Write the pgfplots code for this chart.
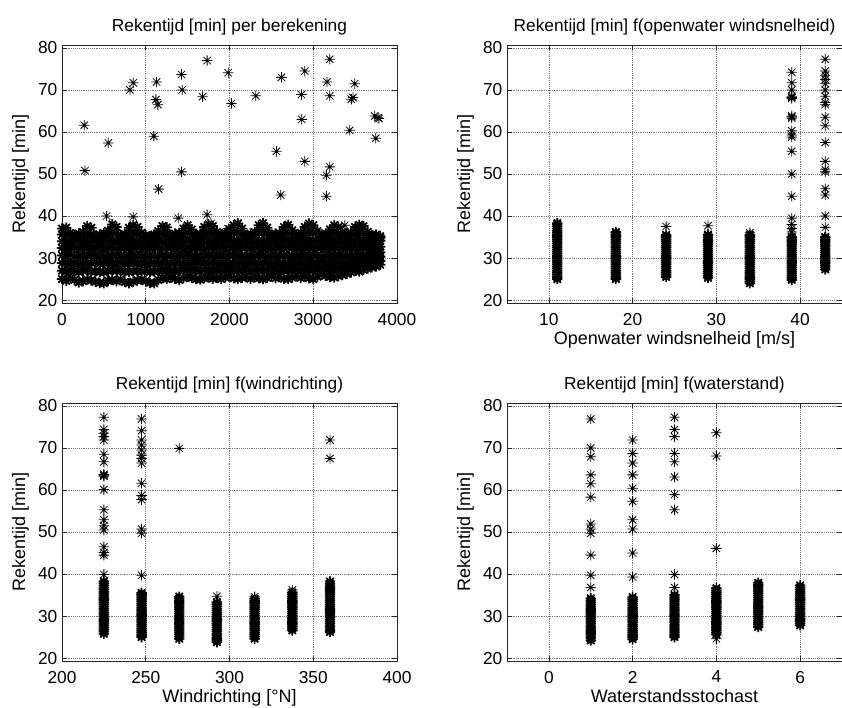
\documentclass[border=0pt]{standalone}
\usepackage{fontspec}
\setmainfont{Liberation Sans}
\usepackage{pgfplots}
\usepackage{pgfplotstable}
\pgfplotsset{compat=1.18}

\pgfdeclareplotmark{mstar}{%
 \pgfpathmoveto{\pgfqpoint{-\pgfplotmarksize}{0pt}}\pgfpathlineto{\pgfqpoint{\pgfplotmarksize}{0pt}}%
 \pgfpathmoveto{\pgfqpoint{0pt}{-\pgfplotmarksize}}\pgfpathlineto{\pgfqpoint{0pt}{\pgfplotmarksize}}%
 \pgfpathmoveto{\pgfqpoint{-0.707\pgfplotmarksize}{-0.707\pgfplotmarksize}}\pgfpathlineto{\pgfqpoint{0.707\pgfplotmarksize}{0.707\pgfplotmarksize}}%
 \pgfpathmoveto{\pgfqpoint{-0.707\pgfplotmarksize}{0.707\pgfplotmarksize}}\pgfpathlineto{\pgfqpoint{0.707\pgfplotmarksize}{-0.707\pgfplotmarksize}}%
 \pgfusepathqstroke}

\newcommand{\tfont}{\fontsize{13}{14}\selectfont}

% dense band of subplot 1: x, then y values spread over the band
\pgfplotstableread{
x lo a b c d e f hi
0 25.0 27.0 28.8 30.6 32.4 34.0 35.6 37.0
50 24.6 26.8 28.9 30.5 32.3 34.1 35.8 37.2
100 25.2 27.1 28.7 30.7 32.5 33.9 35.2 36.0
150 24.8 26.9 28.8 30.4 32.4 34.0 35.0 35.4
200 24.2 26.7 28.6 30.6 32.2 34.1 35.1 35.8
250 24.5 27.0 28.9 30.5 32.5 33.8 35.3 36.2
300 24.9 27.2 28.7 30.6 32.3 34.0 35.8 37.6
350 24.7 26.8 28.8 30.8 32.4 34.2 35.6 37.2
400 24.4 26.9 29.0 30.5 32.3 34.0 34.9 35.3
450 24.1 26.7 28.7 30.6 32.5 33.9 35.0 35.6
500 24.0 26.6 28.8 30.4 32.2 34.1 35.2 35.9
550 24.6 27.0 28.9 30.7 32.4 34.0 35.5 36.5
600 24.8 27.1 28.8 30.6 32.6 34.2 36.2 38.0
650 24.5 26.9 28.7 30.5 32.3 34.0 35.9 37.4
700 24.9 27.0 28.9 30.6 32.4 33.9 35.0 35.5
750 24.3 26.8 28.6 30.4 32.5 34.1 35.1 35.7
800 24.0 26.7 28.8 30.6 32.3 34.0 35.6 37.2
850 24.4 26.9 28.9 30.7 32.4 34.1 35.9 37.8
900 24.7 27.0 28.7 30.5 32.5 34.0 35.8 37.4
950 24.9 26.8 28.8 30.6 32.2 33.9 35.2 36.0
1000 24.5 27.1 28.9 30.4 32.4 34.1 35.0 35.4
1050 24.1 26.7 28.6 30.6 32.3 34.0 34.9 35.2
1100 24.0 26.8 28.8 30.5 32.5 33.8 35.0 35.6
1150 24.8 27.0 28.7 30.7 32.4 34.1 35.4 36.4
1200 25.3 27.2 28.9 30.6 32.3 34.0 35.9 37.6
1250 25.0 27.0 28.8 30.5 32.6 34.2 35.8 37.3
1300 25.4 27.1 28.7 30.6 32.4 33.9 35.0 35.5
1350 25.1 26.9 28.9 30.4 32.3 34.0 35.1 35.8
1400 24.8 27.0 28.8 30.6 32.5 34.1 35.2 35.9
1450 25.2 27.2 28.7 30.5 32.2 34.0 35.7 37.0
1500 25.5 27.3 28.9 30.7 32.4 34.2 36.0 37.8
1550 25.3 27.1 28.8 30.6 32.3 33.9 35.6 36.8
1600 25.0 27.0 28.7 30.4 32.5 34.0 35.0 35.6
1650 24.9 26.9 28.9 30.6 32.4 34.1 35.1 35.8
1700 25.2 27.2 28.8 30.5 32.3 34.0 35.8 37.4
1750 25.4 27.1 28.7 30.7 32.6 34.2 36.0 38.0
1800 25.1 27.0 28.9 30.6 32.4 34.0 35.8 37.6
1850 25.3 27.2 28.8 30.5 32.3 33.9 35.2 36.2
1900 25.0 27.0 28.7 30.6 32.5 34.1 35.0 35.6
1950 25.4 27.3 28.9 30.4 32.2 34.0 35.2 36.0
2000 25.6 27.2 28.8 30.6 32.4 34.1 35.6 36.8
2050 25.2 27.1 28.7 30.7 32.5 34.2 36.0 37.8
2100 25.0 27.0 28.9 30.5 32.3 34.0 36.1 38.2
2150 25.3 27.2 28.8 30.6 32.4 33.9 35.6 37.0
2200 25.5 27.3 28.7 30.4 32.6 34.0 35.0 35.4
2250 25.1 27.0 28.9 30.6 32.3 34.1 35.2 35.8
2300 25.4 27.2 28.8 30.5 32.4 34.0 35.4 36.2
2350 25.2 27.1 28.7 30.7 32.5 34.2 36.0 37.8
2400 25.0 27.0 28.9 30.6 32.3 34.0 36.2 38.3
2450 25.3 27.2 28.8 30.4 32.4 34.1 35.8 37.2
2500 25.6 27.3 28.7 30.6 32.2 33.9 35.0 35.6
2550 25.2 27.1 28.9 30.5 32.5 34.0 35.2 35.8
2600 25.5 27.2 28.8 30.7 32.4 34.1 35.1 35.9
2650 25.1 27.0 28.7 30.6 32.3 34.0 35.8 37.4
2700 25.0 27.1 28.9 30.5 32.6 34.2 36.0 37.9
2750 25.4 27.3 28.8 30.6 32.4 34.0 35.6 36.6
2800 25.7 27.2 28.7 30.4 32.3 33.9 35.0 35.5
2850 25.3 27.1 28.9 30.6 32.5 34.1 35.2 36.0
2900 25.6 27.3 28.8 30.7 32.4 34.0 35.8 37.4
2950 25.2 27.2 28.9 30.6 32.6 34.2 36.2 38.2
3000 25.0 27.0 28.8 30.5 32.3 34.1 36.0 37.8
3050 25.6 27.3 28.7 30.6 32.4 34.0 35.4 36.4
3100 26.0 27.4 28.9 30.4 32.5 33.9 35.0 35.6
3150 25.8 27.2 28.8 30.6 32.3 34.1 35.2 35.8
3200 25.5 27.3 28.7 30.5 32.4 34.0 35.6 36.8
3250 25.4 27.2 28.9 30.7 32.6 34.2 36.0 37.8
3300 25.7 27.4 28.8 30.6 32.4 34.0 35.8 37.4
3350 26.0 27.5 28.9 30.5 32.3 34.1 35.2 36.2
3400 26.3 27.6 28.8 30.6 32.5 34.0 35.1 35.8
3450 26.6 27.8 29.0 30.4 32.4 33.9 35.2 36.0
3500 27.0 28.0 29.2 30.6 32.3 34.1 35.8 37.4
3550 26.8 28.2 29.4 30.7 32.5 34.2 36.0 37.9
3600 27.2 28.4 29.6 30.6 32.4 34.0 35.9 37.6
3650 27.5 28.6 29.8 30.8 32.6 34.1 35.4 36.2
3700 27.8 28.8 29.9 31.0 32.5 33.9 35.0 35.4
3750 28.0 29.0 30.0 31.2 32.6 34.0 35.0 35.6
3800 28.4 29.3 30.3 31.4 32.7 34.1 34.8 35.2
}\bandtable

\pgfplotsset{
  sub/.style={
    scale only axis, width=251.25pt, height=193.5pt, anchor=south west,
    ymin=19.3, ymax=80.7, ytick={20,30,40,50,60,70,80},
    grid=major, major grid style={densely dotted, black!55, line width=0.5pt},
    axis line style={black!85, line width=0.6pt},
    tick style={black!85, line width=0.5pt}, major tick length=3.8pt,
    tick label style={font=\fontsize{13}{13}\selectfont},
    xticklabel style={yshift=-4pt},
    label style={font=\fontsize{13.5}{14}\selectfont},
    xlabel style={yshift=2.5pt},
    title style={font=\tfont, yshift=-2pt},
    /pgf/number format/assume math mode=true,
    /pgf/number format/1000 sep={},
    ylabel={Rekentijd [min]},
  },
  mk/.style={black, only marks, mark=mstar, mark size=3.9pt, line width=0.6pt, mark options={solid}},
  dense/.style={mk, line width=1.3pt},
}

\begin{document}
\begin{tikzpicture}
\path[use as bounding box] (0,0) rectangle (631.5pt,530.25pt);

% ---------------- top left ----------------
\begin{axis}[sub, at={(46.5pt,303pt)}, xmin=0, xmax=4000, xtick={0,1000,2000,3000,4000},
  title={\tfont Rekentijd [min] per berekening}]
\addplot[dense] table[x=x,y=lo] {\bandtable};
\addplot[dense] table[x=x,y=a] {\bandtable};
\addplot[dense] table[x=x,y=b] {\bandtable};
\addplot[dense] table[x=x,y=c] {\bandtable};
\addplot[dense] table[x=x,y=d] {\bandtable};
\addplot[dense] table[x=x,y=e] {\bandtable};
\addplot[dense] table[x=x,y=f] {\bandtable};
\addplot[dense] table[x=x,y=hi] {\bandtable};
\addplot[mk] coordinates {
(266,61.6)(274,50.8)(553,57.4)(811,70.0)(851,71.7)(1129,71.9)(1121,67.7)(1145,66.5)
(1097,59.0)(1153,46.4)(1427,73.7)(1435,70.0)(1427,50.5)(1733,77.0)(1678,68.4)(1984,74.1)
(2024,66.8)(2314,68.6)(2620,73.0)(2561,55.4)(2612,45.0)(2899,74.5)(2859,68.9)(2863,63.0)
(2899,53.0)(3165,71.9)(3197,77.3)(3197,68.6)(3197,51.7)(3157,49.7)(3157,44.7)(3455,67.8)
(3475,68.2)(3495,71.5)(3435,60.4)(3734,63.8)(3773,63.4)(3746,58.5)(3785,63.2)
(533,40.0)(851,39.8)(1388,39.5)(1733,40.3)(1984,37.0)(3376,37.8)(1780,38.2)(2100,38.3)
};
\end{axis}

% ---------------- top right ----------------
\begin{axis}[sub, at={(380.25pt,303pt)}, xmin=5, xmax=45, xtick={10,20,30,40},
  title={\tfont Rekentijd [min] f(openwater windsnelheid)}, xlabel={Openwater windsnelheid [m/s]}]
\addplot[dense] coordinates {
(11,25.0)(11,25.5)(11,26.0)(11,26.5)(11,27.0)(11,27.5)(11,28.0)(11,28.5)(11,29.0)(11,29.5)
(11,30.0)(11,30.5)(11,31.0)(11,31.5)(11,32.0)(11,32.5)(11,33.0)(11,33.5)(11,34.0)(11,34.5)
(11,35.0)(11,35.5)(11,36.0)(11,36.5)(11,37.0)(11,37.5)(11,38.0)(11,38.3)
(18,25.0)(18,25.5)(18,26.0)(18,26.5)(18,27.0)(18,27.5)(18,28.0)(18,28.5)(18,29.0)(18,29.5)
(18,30.0)(18,30.5)(18,31.0)(18,31.5)(18,32.0)(18,32.5)(18,33.0)(18,33.5)(18,34.0)(18,34.5)
(18,35.0)(18,35.5)(18,36.0)(18,36.2)
(24,25.5)(24,26.0)(24,26.5)(24,27.0)(24,27.5)(24,28.0)(24,28.5)(24,29.0)(24,29.5)(24,30.0)
(24,30.5)(24,31.0)(24,31.5)(24,32.0)(24,32.5)(24,33.0)(24,33.5)(24,34.0)(24,34.5)(24,35.0)
(24,35.5)
(29,25.3)(29,25.8)(29,26.3)(29,26.8)(29,27.3)(29,27.8)(29,28.3)(29,28.8)(29,29.3)(29,29.8)
(29,30.3)(29,30.8)(29,31.3)(29,31.8)(29,32.3)(29,32.8)(29,33.3)(29,33.8)(29,34.3)(29,34.8)
(29,35.3)(29,35.6)
(34,24.0)(34,24.5)(34,25.0)(34,25.5)(34,26.0)(34,26.5)(34,27.0)(34,27.5)(34,28.0)(34,28.5)
(34,29.0)(34,29.5)(34,30.0)(34,30.5)(34,31.0)(34,31.5)(34,32.0)(34,32.5)(34,33.0)(34,33.5)
(34,34.0)(34,34.5)(34,35.0)(34,35.5)
(39,24.8)(39,25.3)(39,25.8)(39,26.3)(39,26.8)(39,27.3)(39,27.8)(39,28.3)(39,28.8)(39,29.3)
(39,29.8)(39,30.3)(39,30.8)(39,31.3)(39,31.8)(39,32.3)(39,32.8)(39,33.3)(39,33.8)(39,34.3)
(39,34.8)(39,35.0)
(43,27.3)(43,27.8)(43,28.3)(43,28.8)(43,29.3)(43,29.8)(43,30.3)(43,30.8)(43,31.3)(43,31.8)
(43,32.3)(43,32.8)(43,33.3)(43,33.8)(43,34.3)(43,34.8)(43,35.0)
};
\addplot[mk] coordinates {
(24,37.5)(29,37.7)(34,36.0)
(39,36.2)(39,37.0)(39,38.0)(39,39.5)(39,44.7)(39,50.0)(39,55.4)(39,58.8)(39,59.3)(39,60.3)
(39,63.3)(39,63.6)(39,63.8)(39,68.0)(39,68.2)(39,68.5)(39,70.0)(39,71.7)(39,74.2)
(43,37.3)(43,40.0)(43,45.0)(43,46.5)(43,50.5)(43,51.0)(43,53.0)(43,57.5)(43,61.5)(43,63.5)
(43,66.5)(43,67.0)(43,68.5)(43,70.0)(43,71.5)(43,72.5)(43,73.5)(43,74.5)(43,77.3)
};
\end{axis}

% ---------------- bottom left ----------------
\begin{axis}[sub, at={(46.5pt,34.5pt)}, xmin=200, xmax=400, xtick={200,250,300,350,400},
  title={\tfont Rekentijd [min] f(windrichting)}, xlabel={Windrichting [°N]}]
\addplot[dense] coordinates {
(225,25.8)(225,26.3)(225,26.8)(225,27.3)(225,27.8)(225,28.3)(225,28.8)(225,29.3)(225,29.8)(225,30.3)
(225,30.8)(225,31.3)(225,31.8)(225,32.3)(225,32.8)(225,33.3)(225,33.8)(225,34.3)(225,34.8)(225,35.3)
(225,35.8)(225,36.3)(225,36.8)(225,37.3)(225,37.8)(225,38.3)
(247.5,25.0)(247.5,25.5)(247.5,26.0)(247.5,26.5)(247.5,27.0)(247.5,27.5)(247.5,28.0)(247.5,28.5)
(247.5,29.0)(247.5,29.5)(247.5,30.0)(247.5,30.5)(247.5,31.0)(247.5,31.5)(247.5,32.0)(247.5,32.5)
(247.5,33.0)(247.5,33.5)(247.5,34.0)(247.5,34.5)(247.5,35.0)(247.5,35.5)
(270,24.6)(270,25.1)(270,25.6)(270,26.1)(270,26.6)(270,27.1)(270,27.6)(270,28.1)(270,28.6)(270,29.1)
(270,29.6)(270,30.1)(270,30.6)(270,31.1)(270,31.6)(270,32.1)(270,32.6)(270,33.1)(270,33.6)(270,34.1)
(270,34.6)
(292.5,23.8)(292.5,24.3)(292.5,24.8)(292.5,25.3)(292.5,25.8)(292.5,26.3)(292.5,26.8)(292.5,27.3)
(292.5,27.8)(292.5,28.3)(292.5,28.8)(292.5,29.3)(292.5,29.8)(292.5,30.3)(292.5,30.8)(292.5,31.3)
(292.5,31.8)(292.5,32.3)(292.5,32.8)(292.5,33.3)
(315,24.6)(315,25.1)(315,25.6)(315,26.1)(315,26.6)(315,27.1)(315,27.6)(315,28.1)(315,28.6)(315,29.1)
(315,29.6)(315,30.1)(315,30.6)(315,31.1)(315,31.6)(315,32.1)(315,32.6)(315,33.1)(315,33.6)(315,34.1)
(337.5,26.6)(337.5,27.1)(337.5,27.6)(337.5,28.1)(337.5,28.6)(337.5,29.1)(337.5,29.6)(337.5,30.1)
(337.5,30.6)(337.5,31.1)(337.5,31.6)(337.5,32.1)(337.5,32.6)(337.5,33.1)(337.5,33.6)(337.5,34.1)
(337.5,34.6)(337.5,35.1)(337.5,35.6)
(360,26.2)(360,26.7)(360,27.2)(360,27.7)(360,28.2)(360,28.7)(360,29.2)(360,29.7)(360,30.2)(360,30.7)
(360,31.2)(360,31.7)(360,32.2)(360,32.7)(360,33.2)(360,33.7)(360,34.2)(360,34.7)(360,35.2)(360,35.7)
(360,36.2)(360,36.7)(360,37.2)(360,37.7)(360,38.2)
};
\addplot[mk] coordinates {
(225,39.9)(225,44.5)(225,45.1)(225,46.5)(225,50.5)(225,51.5)(225,52.9)(225,55.3)(225,60.1)
(225,63.3)(225,63.5)(225,63.7)(225,66.7)(225,68.5)(225,71.9)(225,72.7)(225,73.5)(225,74.4)(225,77.3)
(247.5,39.7)(247.5,49.7)(247.5,50.7)(247.5,57.7)(247.5,58.7)(247.5,61.6)(247.5,66.4)(247.5,67.5)
(247.5,68.3)(247.5,69.5)(247.5,70.7)(247.5,71.9)(247.5,74.1)(247.5,76.9)
(270,69.9)(292.5,34.7)(315,34.6)(337.5,36.2)(360,67.5)(360,71.9)
};
\end{axis}

% ---------------- bottom right ----------------
\begin{axis}[sub, at={(380.25pt,34.5pt)}, xmin=-1, xmax=7, xtick={0,2,4,6},
  title={\tfont Rekentijd [min] f(waterstand)}, xlabel={Waterstandsstochast}]
\addplot[dense] coordinates {
(1,24.2)(1,24.7)(1,25.2)(1,25.7)(1,26.2)(1,26.7)(1,27.2)(1,27.7)(1,28.2)(1,28.7)
(1,29.2)(1,29.7)(1,30.2)(1,30.7)(1,31.2)(1,31.7)(1,32.2)(1,32.7)(1,33.2)(1,33.7)(1,34.2)
(2,24.5)(2,25.0)(2,25.5)(2,26.0)(2,26.5)(2,27.0)(2,27.5)(2,28.0)(2,28.5)(2,29.0)
(2,29.5)(2,30.0)(2,30.5)(2,31.0)(2,31.5)(2,32.0)(2,32.5)(2,33.0)(2,33.5)(2,34.0)(2,34.5)
(3,25.0)(3,25.5)(3,26.0)(3,26.5)(3,27.0)(3,27.5)(3,28.0)(3,28.5)(3,29.0)(3,29.5)
(3,30.0)(3,30.5)(3,31.0)(3,31.5)(3,32.0)(3,32.5)(3,33.0)(3,33.5)(3,34.0)(3,34.5)(3,35.0)
(4,25.6)(4,26.1)(4,26.6)(4,27.1)(4,27.6)(4,28.1)(4,28.6)(4,29.1)(4,29.6)(4,30.1)(4,30.6)
(4,31.1)(4,31.6)(4,32.1)(4,32.6)(4,33.1)(4,33.6)(4,34.1)(4,34.6)(4,35.1)(4,35.6)(4,36.1)(4,36.6)
(5,27.4)(5,27.9)(5,28.4)(5,28.9)(5,29.4)(5,29.9)(5,30.4)(5,30.9)(5,31.4)(5,31.9)(5,32.4)
(5,32.9)(5,33.4)(5,33.9)(5,34.4)(5,34.9)(5,35.4)(5,35.9)(5,36.4)(5,36.9)(5,37.4)(5,37.9)
(6,27.8)(6,28.3)(6,28.8)(6,29.3)(6,29.8)(6,30.3)(6,30.8)(6,31.3)(6,31.8)(6,32.3)(6,32.8)
(6,33.3)(6,33.8)(6,34.3)(6,34.8)(6,35.3)(6,35.8)(6,36.3)(6,36.8)(6,37.3)
};
\addplot[mk] coordinates {
(1,36.8)(1,39.7)(1,44.5)(1,49.7)(1,50.7)(1,51.9)(1,58.3)(1,61.5)(1,63.6)(1,67.9)(1,70.0)(1,76.9)
(2,39.3)(2,45.0)(2,50.7)(2,52.9)(2,57.3)(2,60.4)(2,63.6)(2,66.4)(2,68.7)(2,71.9)
(3,36.8)(3,39.9)(3,55.3)(3,58.9)(3,63.1)(3,66.7)(3,68.7)(3,72.7)(3,74.4)(3,77.3)
(4,24.6)(4,46.1)(4,68.1)(4,73.6)
};
\end{axis}
\end{tikzpicture}
\end{document}
